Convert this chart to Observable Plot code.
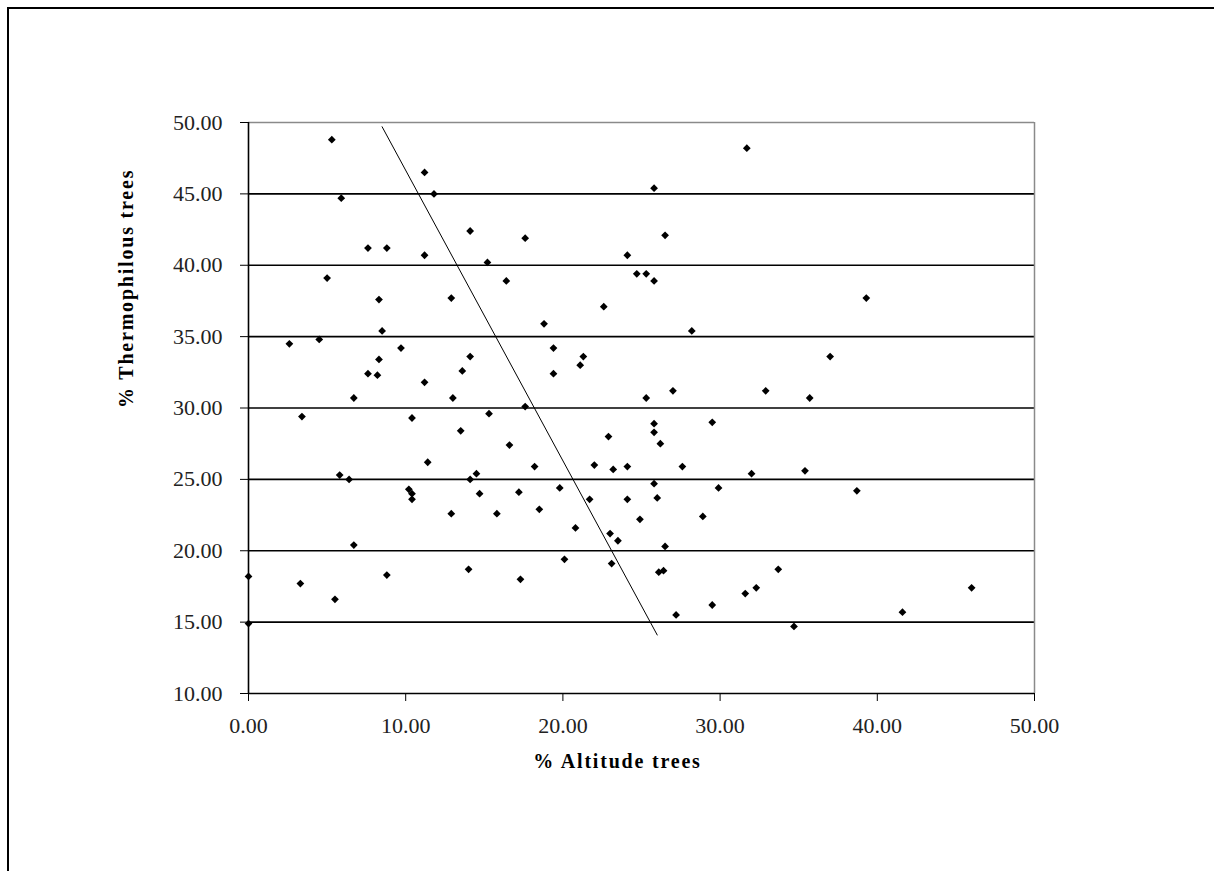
<!DOCTYPE html>
<html>
<head>
<meta charset="utf-8">
<script src="https://cdn.jsdelivr.net/npm/d3@7"></script>
<script src="https://cdn.jsdelivr.net/npm/@observablehq/plot@0.6"></script>
<style>
  html, body { margin: 0; padding: 0; background: #fff; overflow: hidden; }
  #wrap { position: relative; width: 1214px; height: 871px; overflow: hidden; }
  #frame { position: absolute; left: 7px; top: 7px; width: 1400px; height: 1000px; border: 2px solid #000; box-sizing: border-box; }
  #chart { position: absolute; left: 0; top: 0; }
</style>
</head>
<body>
<div id="wrap"><div id="frame"></div><div id="chart"></div></div>
<script>
// % Altitude trees (x) and % Thermophilous trees (y)
const altitude = [
  5.3, 11.2, 11.8, 5.9, 14.1, 7.6, 8.8, 11.2, 15.2, 16.4, 5.0, 8.3, 12.9, 8.5, 2.6, 4.5, 9.7, 8.3, 14.1, 13.6, 7.6, 8.2, 11.2, 6.7, 13.0,
  31.7, 25.8, 17.6, 26.5, 24.1, 24.7, 25.3, 25.8, 22.6, 18.8, 28.2, 19.4, 21.3, 21.1, 19.4, 25.3, 27.0, 32.9, 17.6,
  39.3, 37.0, 35.7,
  3.4, 10.4, 15.3, 13.5, 16.6, 11.4, 5.8, 6.4, 14.1, 14.5, 10.2, 10.4, 10.4, 14.7, 12.9, 15.8, 6.7, 0.0, 3.3, 5.5, 8.8, 14.0, 0.0,
  25.8, 29.5, 25.8, 22.9, 26.2, 18.2, 22.0, 23.2, 24.1, 27.6, 32.0, 25.8, 17.2, 19.8, 29.9, 21.7, 24.1, 26.0, 18.5, 24.9, 28.9, 20.8, 23.0, 23.5, 26.5, 20.1, 23.1, 17.3, 26.1, 26.4, 31.6, 32.3, 29.5, 27.2,
  35.4, 38.7, 33.7, 46.0, 41.6, 34.7
];
const thermophilous = [
  48.8, 46.5, 45.0, 44.7, 42.4, 41.2, 41.2, 40.7, 40.2, 38.9, 39.1, 37.6, 37.7, 35.4, 34.5, 34.8, 34.2, 33.4, 33.6, 32.6, 32.4, 32.3, 31.8, 30.7, 30.7,
  48.2, 45.4, 41.9, 42.1, 40.7, 39.4, 39.4, 38.9, 37.1, 35.9, 35.4, 34.2, 33.6, 33.0, 32.4, 30.7, 31.2, 31.2, 30.1,
  37.7, 33.6, 30.7,
  29.4, 29.3, 29.6, 28.4, 27.4, 26.2, 25.3, 25.0, 25.0, 25.4, 24.3, 24.0, 23.6, 24.0, 22.6, 22.6, 20.4, 18.2, 17.7, 16.6, 18.3, 18.7, 14.9,
  28.9, 29.0, 28.3, 28.0, 27.5, 25.9, 26.0, 25.7, 25.9, 25.9, 25.4, 24.7, 24.1, 24.4, 24.4, 23.6, 23.6, 23.7, 22.9, 22.2, 22.4, 21.6, 21.2, 20.7, 20.3, 19.4, 19.1, 18.0, 18.5, 18.6, 17.0, 17.4, 16.2, 15.5,
  25.6, 24.2, 18.7, 17.4, 15.7, 14.7
];
// trend line end points
const trendX = [8.5, 26.0];
const trendY = [49.7, 14.1];

const xTicks = [0, 10, 20, 30, 40, 50];
const yTicks = [10, 15, 20, 25, 30, 35, 40, 45, 50];
const gridY = [15, 20, 25, 30, 35, 40, 45];

const xTitle = "% Altitude trees";
const yTitle = "% Thermophilous trees";

const points = altitude.map((a, i) => ({x: a, y: thermophilous[i]}));
const trend = trendX.map((a, i) => ({x: a, y: trendY[i]}));
const fmt = d => d.toFixed(2);

const chart = Plot.plot({
  width: 1214,
  height: 871,
  marginLeft: 248,
  marginRight: 180,
  marginTop: 122,
  marginBottom: 178,
  style: {fontFamily: "'Liberation Serif', 'Times New Roman', serif", fontSize: "22px", color: "#000", background: "transparent"},
  x: {domain: [0, 50]},
  y: {domain: [10, 50]},
  marks: [
    Plot.ruleY(gridY, {stroke: "#000", strokeWidth: 1.6}),
    Plot.ruleY([50], {stroke: "#8a8a8a", strokeWidth: 1.5}),
    Plot.ruleX([50], {y1: 10, y2: 50, stroke: "#8a8a8a", strokeWidth: 1.5}),
    Plot.axisY(yTicks, {tickFormat: fmt, tickSize: 8, tickPadding: 18, fontSize: 22, fill: "#222", stroke: "#000", label: null}),
    Plot.axisX(xTicks, {tickFormat: fmt, tickSize: 8, tickPadding: 16, fontSize: 22, fill: "#222", stroke: "#000", label: null}),
    Plot.ruleX([0], {y1: 10, y2: 50, stroke: "#000", strokeWidth: 1.6}),
    Plot.ruleY([10], {x1: 0, x2: 50, stroke: "#000", strokeWidth: 1.6}),
    Plot.line(trend, {x: "x", y: "y", stroke: "#000", strokeWidth: 1}),
    Plot.dot(points, {x: "x", y: "y", symbol: "diamond2", r: 3.5, fill: "#000", stroke: "none"}),
    Plot.text([yTitle], {frameAnchor: "left", rotate: -90, dx: -122, fontSize: 20, fontWeight: "bold", fill: "#000"}),
    Plot.text([xTitle], {frameAnchor: "bottom", dx: -24, dy: 74, fontSize: 20, fontWeight: "bold", fill: "#000"})
  ]
});
document.getElementById("chart").appendChild(chart);
d3.select(chart).selectAll("text").filter(function() {
  const t = this.textContent;
  return t === xTitle || t === yTitle;
}).style("letter-spacing", "1.8px");
</script>
</body>
</html>
